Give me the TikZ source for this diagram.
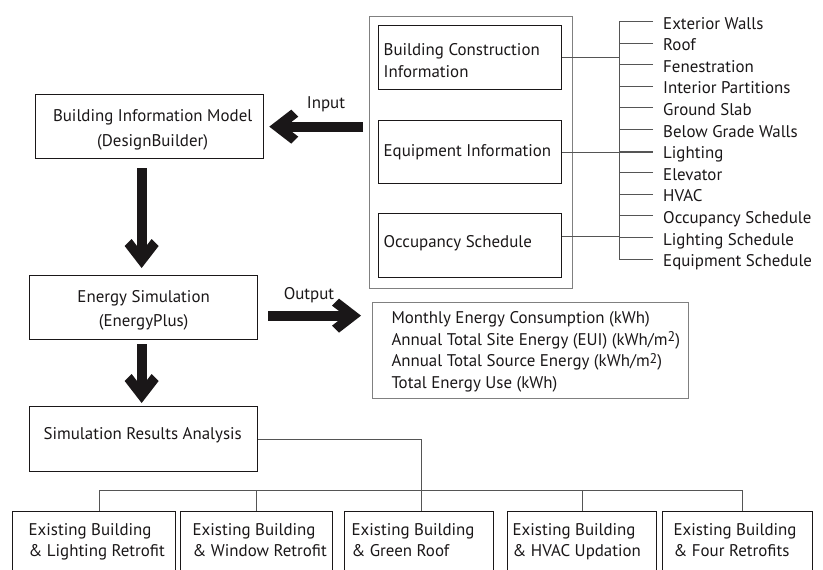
\documentclass[tikz,border=0pt]{standalone}
\usepackage{fontspec}
\setmainfont{PT Sans}
\usetikzlibrary{arrows.meta}

\definecolor{ink}{HTML}{1A1718}
\definecolor{rule}{HTML}{555555}
\definecolor{frameline}{HTML}{808080}

% heavy chevron head for the flow arrows
\pgfdeclarearrow{
  name = Chevron,
  setup code = {
    \pgfarrowssettipend{0pt}
    \pgfarrowssetlineend{-20pt}
    \pgfarrowssetvisualbackend{-22pt}
    \pgfarrowssetbackend{-29pt}
    \pgfarrowshullpoint{0pt}{0pt}
    \pgfarrowshullpoint{-22pt}{17pt}
    \pgfarrowshullpoint{-29pt}{10pt}
    \pgfarrowshullpoint{-29pt}{-10pt}
    \pgfarrowshullpoint{-22pt}{-17pt}
  },
  drawing code = {
    \pgfpathmoveto{\pgfpoint{0pt}{0pt}}
    \pgfpathlineto{\pgfpoint{-22pt}{17pt}}
    \pgfpathlineto{\pgfpoint{-29pt}{10pt}}
    \pgfpathlineto{\pgfpoint{-22.5pt}{5pt}}
    \pgfpathlineto{\pgfpoint{-22.5pt}{-5pt}}
    \pgfpathlineto{\pgfpoint{-29pt}{-10pt}}
    \pgfpathlineto{\pgfpoint{-22pt}{-17pt}}
    \pgfpathclose
    \pgfusepathqfill
  }
}

% box contents: width, left offset, lines
\newcommand\lcell[3]{\hbox to #1{\hspace*{#2}\begin{tabular}[t]{@{}l@{}}#3\end{tabular}\hss}}
\newcommand\ccell[3]{\hbox to #1{\hspace*{#2}\hss\begin{tabular}[t]{@{}c@{}}#3\end{tabular}\hss}}
\newcommand\msq{\raisebox{3.5pt}{\fontsize{14}{14}\selectfont 2}}

\begin{document}
\begin{tikzpicture}[x=1pt, y=-1pt,
  font=\fontsize{16.9}{21.6}\selectfont,
  box/.style={draw=ink, line width=1.3pt, inner sep=0pt, anchor=north west, text=ink},
  lightbox/.style={box, draw=frameline, line width=1pt},
  frame/.style={draw=frameline, line width=1pt, inner sep=0pt, anchor=north west},
  wire/.style={draw=rule, line width=0.9pt},
  item/.style={inner sep=0pt, anchor=base west, text=ink},
  tag/.style={inner sep=0pt, anchor=base, text=ink},
  bigarrow/.style={draw=ink, line width=10pt, -{Chevron}, color=ink}]

\useasboundingbox (0,0) rectangle (823,570);
\clip (0,0) rectangle (823,570);

% input block with its three information groups
\node[frame, minimum width=203pt, minimum height=272pt] (inputs) at (369,16) {};
\node[box, text height=30pt, text depth=34pt] (bci) at (378,25)
  {\lcell{183pt}{5pt}{Building Construction\\ Information}};
\node[box, text height=35.7pt, text depth=27.3pt] (ei) at (378,120)
  {\lcell{183pt}{5pt}{Equipment Information}};
\node[box, text height=33.7pt, text depth=30.3pt] (os) at (378,213)
  {\lcell{183pt}{5pt}{Occupancy Schedule}};

% list of model inputs
\foreach \t [count=\i from 0] in {Exterior Walls, Roof, Fenestration,
    Interior Partitions, Ground Slab, Below Grade Walls, Lighting, Elevator,
    HVAC, Occupancy Schedule, Lighting Schedule, Equipment Schedule} {
  \node[item] (it\i) at (663, {29+\i*21.6}) {\t};
  \draw[wire] ([shift={(-10pt,7.5pt)}]it\i.base west) coordinate (te\i)
    -- ++(-34pt,0) coordinate (tk\i);
}
\draw[wire] (tk0) -- (tk11);
\draw[wire] (bci.east) -- (bci.east -| tk0);
\draw[wire] (ei.east) -- (ei.east -| te6);
\coordinate (osout) at ([yshift=9pt]os.east);
\draw[wire] (osout) -- (osout -| tk0);

% main flow
\node[box, text height=27pt, text depth=37pt] (bim) at (35,94)
  {\ccell{228pt}{6pt}{Building Information Model\\[3.4pt](DesignBuilder)}};
\node[box, text height=26.8pt, text depth=37.2pt] (es) at (29,275)
  {\ccell{228pt}{0pt}{Energy Simulation\\[2.8pt](EnergyPlus)}};
\node[lightbox, text height=21pt, text depth=75pt] (out) at (372,302)
  {\lcell{316pt}{19pt}{Monthly Energy Consumption (kWh)\\
   Annual Total Site Energy (EUI) (kWh/m\msq)\\
   Annual Total Source Energy (kWh/m\msq)\\
   Total Energy Use (kWh)}};
\node[box, text height=33.3pt, text depth=31.7pt] (sra) at (29,406)
  {\lcell{228pt}{14pt}{Simulation Results Analysis}};

\draw[bigarrow] ([xshift=-6pt]bim.east -| inputs.west) -- ([xshift=5pt]bim.east);
\node[tag] (inlab) at (326,108.3) {Input};
\draw[bigarrow] ([shift={(-2pt,-9pt)}]bim.south -| es.north) -- ([shift={(-2pt,7pt)}]es.north);
\draw[bigarrow] ([shift={(10pt,-8pt)}]es.east) coordinate (o1) -- ([xshift=-11pt]o1 -| out.west);
\node[tag] (outlab) at (309,299) {Output};
\draw[bigarrow] ([shift={(-2pt,-4pt)}]es.south) -- ([shift={(-2pt,3pt)}]sra.north);

% retrofit scenarios
\node[box, text height=24pt, text depth=56pt] (b1) at (12,511)
  {\lcell{163pt}{16pt}{Existing Building\\[-0.9pt]\& Lighting Retrofit}};
\node[box, text height=24pt, text depth=56pt] (b2) at (180,511)
  {\lcell{152pt}{12pt}{Existing Building\\[-0.9pt]\& Window Retrofit}};
\node[box, text height=24pt, text depth=56pt] (b3) at (344,511)
  {\lcell{149pt}{7pt}{Existing Building\\[-0.9pt]\& Green Roof}};
\node[box, text height=24pt, text depth=56pt] (b4) at (507,511)
  {\lcell{149pt}{5pt}{Existing Building\\[-0.9pt]\& HVAC Updation}};
\node[box, text height=24pt, text depth=56pt] (b5) at (662,511)
  {\lcell{150pt}{11pt}{Existing Building\\[-0.9pt]\& Four Retrofits}};

\draw[wire] (sra.east) -| ([xshift=2pt]b3.north);
\draw[wire] ([xshift=5.5pt]b1.north) -- ++(0,-21) -| ([xshift=5pt]b5.north);
\draw[wire] (b2.north) -- ++(0,-21);
\draw[wire] (b4.north) -- ++(0,-21);
\end{tikzpicture}
\end{document}
